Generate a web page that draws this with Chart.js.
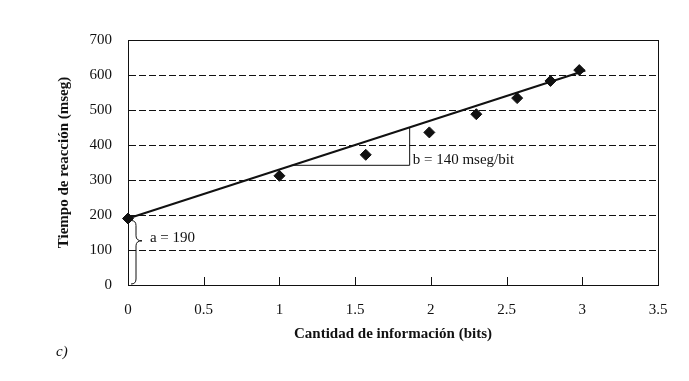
<!DOCTYPE html>
<html>
<head>
<meta charset="utf-8">
<script src="https://cdn.jsdelivr.net/npm/chart.js@4/dist/chart.umd.min.js"></script>
<style>
  html, body { margin: 0; padding: 0; background: #fff; }
  #wrap { width: 689px; height: 381px; }
</style>
</head>
<body>
<div id="wrap"><canvas id="c" width="689" height="381"></canvas></div>
<script>
// ---- Data ----
const infoBits   = [0, 1, 1.57, 1.99, 2.3, 2.57, 2.79, 2.98];
const reactionMs = [190, 312, 372, 436, 488, 534, 583, 614];
const fitX = [0, 3.02];
const fitY = [190, 613];
const slopeX = [1.08, 1.86, 1.86];
const slopeY = [342, 342, 450];
const braceRange = [0, 190];   // a = 190
const xTickStep = 0.5;
const yTickStep = 100;
const xTitle = 'Cantidad de información (bits)';
const yTitle = 'Tiempo de reacción (mseg)';
const labelA = 'a = 190';
const labelB = 'b = 140 mseg/bit';
const panelLabel = 'c)';

const FONT = "'Liberation Serif', 'Times New Roman', serif";
const INK = '#111';

const toPts = (xs, ys) => xs.map((x, i) => ({ x: x, y: ys[i] }));

const decorPlugin = {
  id: 'decor',
  afterDatasetsDraw(chart) {
    const ctx = chart.ctx;
    const xs = chart.scales.x, ys = chart.scales.y;
    const a = chart.chartArea;
    ctx.save();
    ctx.strokeStyle = INK;
    ctx.fillStyle = INK;
    // inside x ticks
    ctx.lineWidth = 1;
    xs.ticks.forEach(t => {
      const px = Math.round(xs.getPixelForValue(t.value)) + 0.5;
      ctx.beginPath();
      ctx.moveTo(px, a.bottom);
      ctx.lineTo(px, a.bottom - 8);
      ctx.stroke();
    });
    // brace for a = 190
    const bx = xs.getPixelForValue(0) + 8;
    const yTop = ys.getPixelForValue(braceRange[1]) + 2;
    const yBot = ys.getPixelForValue(braceRange[0]) - 1;
    const yTip = yTop + (yBot - yTop) * 0.32;
    ctx.lineWidth = 1;
    ctx.beginPath();
    ctx.moveTo(bx - 5, yTop);
    ctx.quadraticCurveTo(bx, yTop, bx, yTop + 5);
    ctx.lineTo(bx, yTip - 5);
    ctx.quadraticCurveTo(bx, yTip, bx + 6, yTip);
    ctx.quadraticCurveTo(bx, yTip, bx, yTip + 5);
    ctx.lineTo(bx, yBot - 5);
    ctx.quadraticCurveTo(bx, yBot, bx - 5, yBot);
    ctx.stroke();
    // annotation texts
    ctx.font = '15px ' + FONT;
    ctx.textBaseline = 'middle';
    ctx.textAlign = 'left';
    ctx.fillText(labelA, xs.getPixelForValue(0.145), ys.getPixelForValue(134));
    ctx.fillText(labelB, xs.getPixelForValue(1.88), ys.getPixelForValue(357));
    ctx.restore();
  },
  afterDraw(chart) {
    const ctx = chart.ctx;
    const a = chart.chartArea;
    ctx.save();
    ctx.strokeStyle = INK;
    ctx.lineWidth = 1;
    ctx.strokeRect(Math.round(a.left) + 0.5, Math.round(a.top) + 0.5,
                   Math.round(a.right - a.left), Math.round(a.bottom - a.top));
    ctx.fillStyle = INK;
    ctx.font = 'italic 15px ' + FONT;
    ctx.textBaseline = 'middle';
    ctx.fillText(panelLabel, 56, 352);
    ctx.restore();
  }
};

new Chart(document.getElementById('c'), {
  type: 'scatter',
  data: {
    datasets: [
      {
        label: 'datos',
        data: toPts(infoBits, reactionMs),
        pointStyle: 'rectRot',
        pointRadius: 5.5,
        pointBackgroundColor: INK,
        pointBorderColor: INK,
        borderWidth: 1,
        showLine: false,
        clip: false,
        order: 0
      },
      {
        label: 'ajuste',
        type: 'line',
        data: toPts(fitX, fitY),
        borderColor: INK,
        borderWidth: 2,
        pointRadius: 0,
        fill: false,
        clip: false,
        order: 1
      },
      {
        label: 'pendiente',
        type: 'line',
        data: toPts(slopeX, slopeY),
        borderColor: INK,
        borderWidth: 1,
        pointRadius: 0,
        fill: false,
        order: 2
      }
    ]
  },
  options: {
    responsive: false,
    animation: false,
    layout: { padding: { left: 0, top: 40, right: 31, bottom: 0 } },
    plugins: { legend: { display: false }, tooltip: { enabled: false } },
    scales: {
      x: {
        type: 'linear',
        min: 0, max: 3.5,
        afterFit(s) { s.height = 96; },
        ticks: {
          stepSize: xTickStep,
          padding: 16,
          color: INK,
          font: { family: FONT, size: 15 },
          maxRotation: 0,
          callback: (v) => String(Number(v))
        },
        grid: { display: false, drawTicks: false },
        border: { display: true, color: INK, width: 1 },
        title: {
          display: true,
          text: xTitle,
          color: INK,
          font: { family: FONT, size: 15, weight: 'bold' },
          padding: { top: 0, bottom: 38 }
        }
      },
      y: {
        type: 'linear',
        min: 0, max: 700,
        afterFit(s) { s.width = 128; },
        ticks: {
          stepSize: yTickStep,
          padding: 16,
          color: INK,
          font: { family: FONT, size: 15 }
        },
        grid: { color: INK, lineWidth: 1, drawTicks: false },
        border: { display: true, color: INK, width: 1, dash: [7, 3] },
        title: {
          display: true,
          text: yTitle,
          color: INK,
          font: { family: FONT, size: 15, weight: 'bold' },
          padding: { top: 55, bottom: 0 }
        }
      }
    }
  },
  plugins: [decorPlugin]
});
</script>
</body>
</html>
